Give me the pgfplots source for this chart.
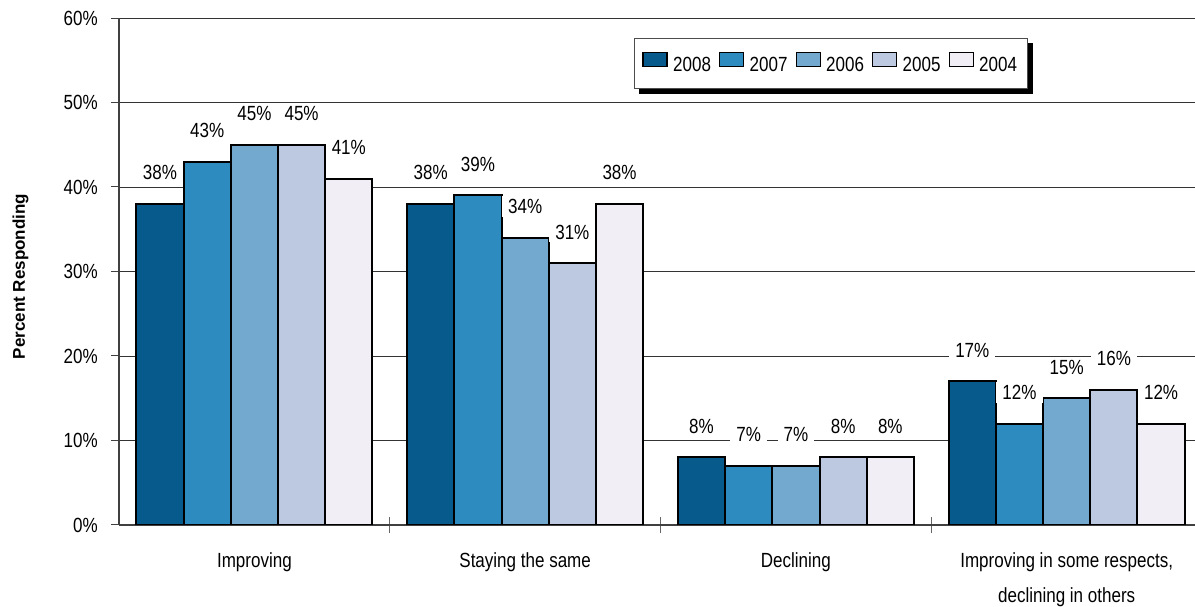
\documentclass[border=0pt]{standalone}
\usepackage{pgfplots}
\pgfplotsset{compat=1.18}
\usepackage{fontspec}
\setmainfont{Liberation Sans}[FakeStretch=0.83]
\newfontfamily\labelfont{Liberation Sans}

\definecolor{c2008}{HTML}{075A8C}
\definecolor{c2007}{HTML}{2E8BBF}
\definecolor{c2006}{HTML}{74A9CF}
\definecolor{c2005}{HTML}{BDC9E1}
\definecolor{c2004}{HTML}{F1EEF6}

\newcommand{\chartfont}{\fontsize{20.5}{35}\selectfont}

\begin{document}
\begin{tikzpicture}
\useasboundingbox (-119pt,-82pt) rectangle (1076pt,525pt);
\begin{axis}[
  at={(0pt,0pt)}, anchor=south west,
  scale only axis, width=1076pt, height=507pt,
  xmin=-0.5, xmax=3.474, ymin=0, ymax=60,
  ybar=0pt, bar width=47.2pt,
  axis x line*=bottom, axis y line*=left,
  axis line style={draw=black!75, line width=1.3pt},
  ymajorgrids, grid style={draw=black!80, line width=0.9pt},
  ytick={0,10,...,60},
  yticklabel={\pgfmathprintnumber{\tick}\%},
  /pgf/number format/assume math mode=true,
  tick align=outside,
  major tick length=8pt,
  minor tick length=16pt,
  ytick style={draw=black!75, line width=1pt},
  xtick={0,1,2,3},
  xticklabels={Improving, Staying the same, Declining, {Improving in some respects,\\declining in others}},
  major x tick style={draw=none},
  minor xtick={0.5,1.5,2.5},
  minor x tick style={draw=black!60, line width=1pt, yshift=8pt},
  tick label style={font=\chartfont},
  xticklabel style={align=center, anchor=north, inner sep=0pt, yshift=-19pt},
  yticklabel style={anchor=east, inner sep=0pt, xshift=-13pt},
  ylabel={Percent Responding},
  every axis y label/.style={at={(axis description cs:-0.0915,0.49)}, rotate=90, anchor=center,
    font=\labelfont\bfseries\fontsize{17}{20}\selectfont},
  nodes near coords={\pgfmathprintnumber{\pgfplotspointmeta}\%},
  every node near coord/.append style={font=\chartfont, fill=white, anchor=center,
    inner xsep=6pt, inner ysep=3pt, yshift=31pt},
  every axis plot/.append style={draw=black, line width=2pt},
  legend columns=5,
  legend style={name=leg, at={(rel axis cs:0.4786,0.9606)}, anchor=north west,
    draw=black!70, line width=1pt, fill=white, font=\chartfont,
    inner xsep=8pt, inner ysep=13.5pt,
    /tikz/every even column/.append style={column sep=6pt}},
  legend image code/.code={\draw[#1, line width=1.3pt] (0pt,-2pt) rectangle (24pt,12pt);
    \path (27pt,0pt);},
]
\addplot[fill=c2008] coordinates {(0,38) (1,38) (2,8) (3,17)};
\addplot[fill=c2007] coordinates {(0,43) (1,39) (2,7) (3,12)};
\addplot[fill=c2006] coordinates {(0,45) (1,34) (2,7) (3,15)};
\addplot[fill=c2005] coordinates {(0,45) (1,31) (2,8) (3,16)};
\addplot[fill=c2004] coordinates {(0,41) (1,38) (2,8) (3,12)};
\legend{2008,2007,2006,2005,2004}
\end{axis}
% offset shadow along the right and bottom edges of the legend box
\fill[black] ([yshift=-5pt]leg.north east) rectangle ([xshift=5pt,yshift=-5pt]leg.south east);
\fill[black] ([xshift=5pt]leg.south west) rectangle ([xshift=5pt,yshift=-5pt]leg.south east);
\end{tikzpicture}
\end{document}
